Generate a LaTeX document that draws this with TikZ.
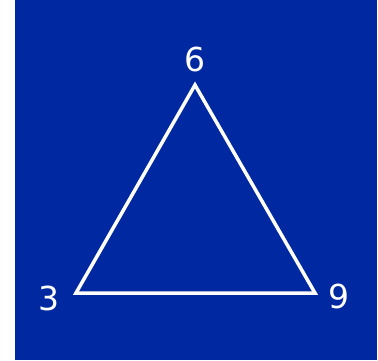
\documentclass[tikz,border=0pt]{standalone}
\usepackage{fontspec}
\setsansfont{DejaVu Sans}
\definecolor{bgblue}{RGB}{0,40,160}

\begin{document}
\begin{tikzpicture}[x=1pt, y=-1pt,
  num/.style={text=white, font=\sffamily\fontsize{33}{33}\selectfont, inner sep=0pt}]
\useasboundingbox (0,0) rectangle (378,360);
\fill[bgblue] (15,0) rectangle (377,360);
% corners of the triangle
\coordinate (top) at (195,85);
\coordinate (left) at (76,293);
\coordinate (right) at (315,293);
\draw[white, line width=3.5pt, line join=miter] (top) -- (right) -- (left) -- cycle;
% labels
\node[num] (six) at (195,59) {6};
\node[num] (three) at (49,298) {3};
\node[num] (nine) at (339,296) {9};
\end{tikzpicture}
\end{document}
